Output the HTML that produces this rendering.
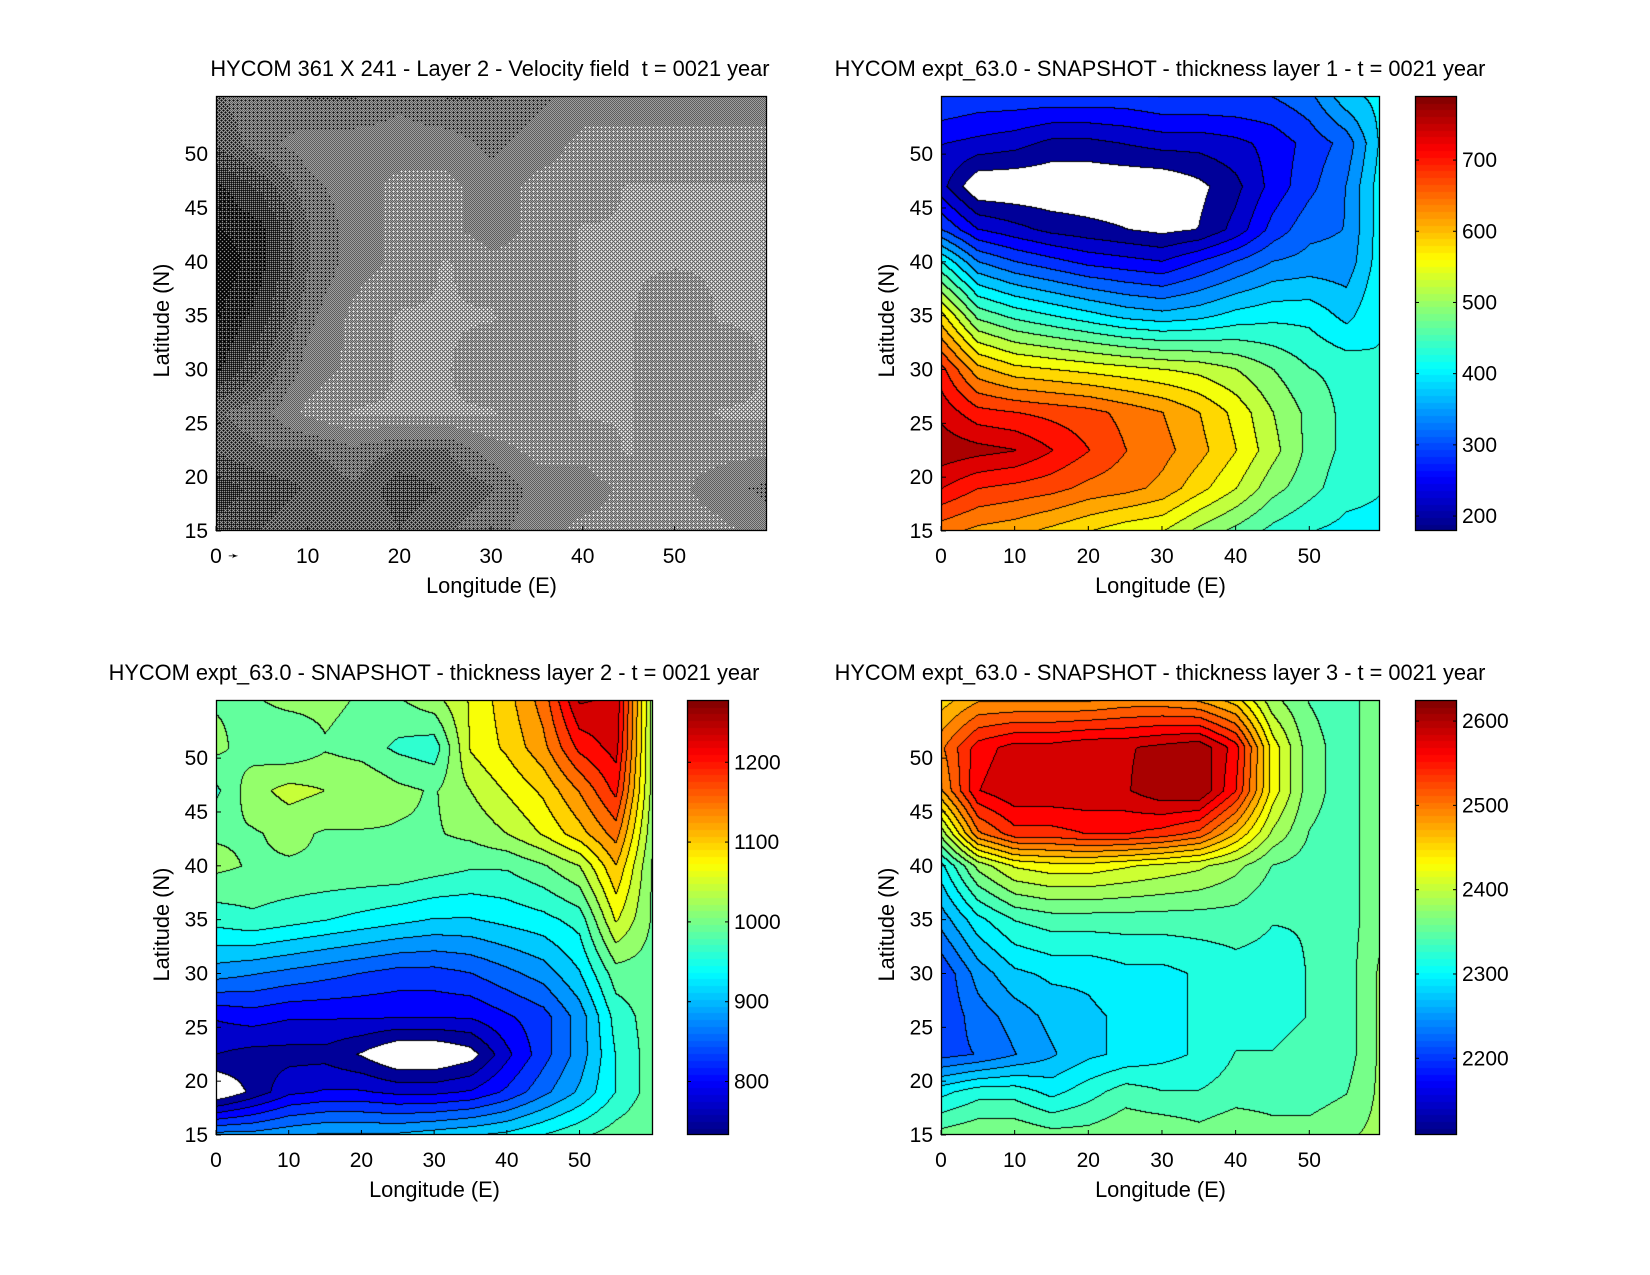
<!DOCTYPE html>
<html><head><meta charset="utf-8">
<style>
html,body{margin:0;padding:0;background:#fff;}
#fig{position:relative;width:1650px;height:1275px;overflow:hidden;background:#fff;font-family:"Liberation Sans",sans-serif;}
canvas{position:absolute;}
svg{position:absolute;left:0;top:0;}
svg text{font-family:"Liberation Sans",sans-serif;font-size:21px;fill:#000;white-space:pre;}
svg text.big{font-size:21.8px;}
</style></head>
<body>
<div id="fig">
<canvas id="c0"></canvas>
<canvas id="c1"></canvas>
<canvas id="c2"></canvas>
<canvas id="c3"></canvas>
<canvas id="cb1"></canvas>
<canvas id="cb2"></canvas>
<canvas id="cb3"></canvas>
<svg id="ov" width="1650" height="1275" xml:space="preserve"></svg>
</div>
<script>
const lats = [55.4,51,47,43,40,35,30,26,22.5,19,15];
const lons = [0,5,10,15,20,25,30,35,40,45,50,55,60];
const speedGrid = [
[.6,.55,.6,.6,.55,.6,.6,.55,.5,.5,.5,.5,.5],
[.65,.55,.5,.5,.5,.5,.55,.5,.45,.45,.45,.45,.45],
[.8,.7,.55,.5,.45,.45,.5,.45,.45,.4,.4,.4,.4],
[.85,.8,.6,.5,.45,.45,.5,.45,.4,.4,.4,.4,.4],
[.9,.8,.6,.5,.45,.4,.45,.45,.4,.4,.4,.4,.4],
[.85,.75,.55,.45,.4,.4,.4,.45,.4,.4,.45,.4,.4],
[.8,.65,.5,.45,.4,.4,.45,.45,.4,.4,.45,.45,.4],
[.6,.55,.45,.4,.4,.4,.4,.45,.4,.4,.45,.4,.4],
[.65,.6,.6,.55,.6,.6,.5,.45,.45,.4,.45,.45,.45],
[.75,.7,.65,.6,.7,.65,.6,.5,.5,.45,.45,.5,.55],
[.7,.65,.6,.6,.65,.6,.55,.5,.45,.45,.45,.45,.5]];
const layer1 = [
[300,290,290,290,290,290,300,300,300,300,320,380,400],
[240,230,220,200,200,210,220,220,230,250,280,310,400],
[220,150,150,150,150,150,150,170,200,250,290,330,410],
[300,240,220,200,190,180,170,180,220,280,320,330,410],
[420,330,300,280,260,250,240,270,300,330,340,340,410],
[580,470,440,420,400,380,370,380,400,410,410,380,420],
[700,610,580,570,560,550,540,530,510,480,450,440,420],
[740,700,690,680,670,650,630,600,560,510,470,440,420],
[770,760,750,720,690,660,640,610,570,520,470,440,420],
[720,690,680,670,650,640,620,580,540,490,460,430,420],
[640,620,610,590,570,550,540,500,470,440,420,410,410]];
const layer2 = [
[1000,1000,1010,1010,1000,1000,1020,1060,1100,1150,1250,1240,1020],
[1010,990,980,1000,990,970,960,1060,1090,1130,1200,1230,1020],
[970,1020,1040,1030,1030,1010,1000,1030,1060,1090,1140,1200,1020],
[1000,1000,1010,1000,1000,1000,1000,1010,1030,1060,1100,1150,1010],
[1010,1000,1000,1000,1000,1000,990,980,980,1000,1030,1110,1000],
[960,970,960,950,940,930,920,920,930,940,960,1060,1000],
[880,870,860,850,840,830,830,840,860,880,920,990,990],
[790,800,790,790,790,790,790,790,810,830,880,960,990],
[760,750,750,750,730,700,700,720,780,830,880,950,990],
[700,740,780,790,790,780,780,790,820,860,900,950,990],
[880,880,890,900,900,900,910,920,930,950,970,990,1000]];
const layer3 = [
[2450,2480,2480,2480,2480,2490,2490,2480,2450,2380,2350,2340,2370],
[2500,2560,2580,2580,2590,2590,2600,2610,2560,2430,2360,2340,2370],
[2480,2570,2590,2590,2590,2590,2610,2615,2550,2430,2360,2340,2370],
[2380,2500,2540,2540,2550,2550,2540,2520,2460,2390,2350,2340,2370],
[2300,2380,2420,2430,2430,2420,2410,2400,2380,2350,2340,2340,2370],
[2250,2300,2330,2340,2340,2340,2340,2340,2340,2330,2330,2340,2370],
[2200,2250,2280,2290,2290,2300,2300,2310,2320,2320,2330,2340,2380],
[2200,2230,2250,2270,2280,2290,2300,2310,2320,2320,2330,2340,2380],
[2210,2220,2240,2260,2280,2290,2300,2310,2330,2330,2340,2340,2380],
[2300,2320,2320,2300,2320,2340,2330,2330,2340,2340,2340,2350,2380],
[2360,2370,2370,2360,2360,2370,2370,2360,2370,2360,2360,2370,2380]];
const xTicks = [0,10,20,30,40,50];
const yTicks = [15,20,25,30,35,40,45,50];
const cbTicks1 = [200,300,400,500,600,700];
const cbTicks2 = [800,900,1000,1100,1200];
const cbTicks3 = [2200,2300,2400,2500,2600];
const titles = ["HYCOM 361 X 241 - Layer 2 - Velocity field  t = 0021 year",
"HYCOM expt_63.0 - SNAPSHOT - thickness layer 1 - t = 0021 year",
"HYCOM expt_63.0 - SNAPSHOT - thickness layer 2 - t = 0021 year",
"HYCOM expt_63.0 - SNAPSHOT - thickness layer 3 - t = 0021 year"];

const panels = [
 {id:'c0',L:216,R:767,T:96,B:531,x1:60.1,tc:490},
 {id:'c1',L:941,R:1380,T:96,B:531,x1:59.6,tc:1160,grid:layer1,vmin:179,vmax:790,step:30,cb:'cb1',cbt:cbTicks1,cbL:1415,cbR:1457},
 {id:'c2',L:216,R:653,T:700,B:1135,x1:60.1,tc:434,grid:layer2,vmin:733,vmax:1278,step:27,cb:'cb2',cbt:cbTicks2,cbL:687,cbR:729},
 {id:'c3',L:941,R:1380,T:700,B:1135,x1:59.6,tc:1160,grid:layer3,vmin:2109,vmax:2625,step:22,cb:'cb3',cbt:cbTicks3,cbL:1415,cbR:1457}];

function jet(t){t=Math.max(0,Math.min(1,t));
 const f=(x)=>Math.max(0,Math.min(1,x));
 return [f(1.5-Math.abs(4*t-3)),f(1.5-Math.abs(4*t-2)),f(1.5-Math.abs(4*t-1))].map(v=>Math.round(v*255));}
function interp(grid,lat,lon){
 let j=Math.min(lons.length-2,Math.max(0,Math.floor(lon/5)));
 let fx=(lon-lons[j])/5; fx=Math.max(0,Math.min(1,fx));
 let i=0; while(i<lats.length-2 && lat<lats[i+1]) i++;
 let fy=(lats[i]-lat)/(lats[i]-lats[i+1]); fy=Math.max(0,Math.min(1,fy));
 const a=grid[i][j],b=grid[i][j+1],c=grid[i+1][j],d=grid[i+1][j+1];
 return (a*(1-fx)+b*fx)*(1-fy)+(c*(1-fx)+d*fx)*fy;}
const Y1=55.4,Y0=15;
panels.forEach((p,k)=>{
 const cv=document.getElementById(p.id); const w=p.R-p.L,h=p.B-p.T;
 cv.width=w;cv.height=h;cv.style.left=p.L+'px';cv.style.top=p.T+'px';
 const ctx=cv.getContext('2d');const img=ctx.createImageData(w,h);
 if(k===0){
  const bay=[[0,8,2,10],[12,4,14,6],[3,11,1,9],[15,7,13,5]];
  for(let y=0;y<h;y++)for(let x=0;x<w;x++){
   const lon=x/w*p.x1,lat=Y1-y/h*(Y1-Y0);
   const s=interp(speedGrid,lat,lon);
   const blk=(bay[y%4][x%4]+0.5)/16<s;
   const o=(y*w+x)*4;const v=blk?0:255;
   img.data[o]=img.data[o+1]=img.data[o+2]=v;img.data[o+3]=255;}
  ctx.putImageData(img,0,0);return;}
 const lev=new Int16Array(w*h);
 for(let y=0;y<h;y++)for(let x=0;x<w;x++){
  const lon=x/w*p.x1,lat=Y1-y/h*(Y1-Y0);
  const v=interp(p.grid,lat,lon);
  lev[y*w+x]=v<p.vmin?-1:Math.floor((v-p.vmin)/p.step);}
 for(let y=0;y<h;y++)for(let x=0;x<w;x++){
  const i=y*w+x,o=i*4,l=lev[i];let c;
  if(l<0)c=[255,255,255];else c=jet(((l+0.5)*p.step)/(p.vmax-p.vmin));
  const edge=(x<w-1&&lev[i+1]!==l)||(y<h-1&&lev[i+w]!==l);
  if(edge)c=[0,0,0];
  img.data[o]=c[0];img.data[o+1]=c[1];img.data[o+2]=c[2];img.data[o+3]=255;}
 ctx.putImageData(img,0,0);
 const cb=document.getElementById(p.cb);const cw=p.cbR-p.cbL;
 cb.width=cw;cb.height=h;cb.style.left=p.cbL+'px';cb.style.top=p.T+'px';
 const cc=cb.getContext('2d');
 for(let n=0;n<64;n++){const c=jet((n+0.5)/64);cc.fillStyle=`rgb(${c[0]},${c[1]},${c[2]})`;
  const y0=h-(n+1)*h/64;cc.fillRect(0,Math.floor(y0),cw,Math.ceil(h/64)+1);}
});

const ov=document.getElementById('ov');const NS='http://www.w3.org/2000/svg';
function mk(tag,attrs,txt){const e=document.createElementNS(NS,tag);for(const a in attrs)e.setAttribute(a,attrs[a]);if(txt!==undefined)e.textContent=txt;ov.appendChild(e);return e;}
panels.forEach((p,k)=>{
 const sx=v=>p.L+v/p.x1*(p.R-p.L), sy=v=>p.B-(v-Y0)/(Y1-Y0)*(p.B-p.T);
 let e=mk('rect',{x:p.L+0.5,y:p.T+0.5,width:p.R-p.L-1,height:p.B-p.T-1,fill:'none',stroke:'#000','stroke-width':1.3});
 
 xTicks.forEach(t=>{const x=sx(t);
  e=mk('line',{x1:x,x2:x,y1:p.B,y2:p.B-5,stroke:'#000'});
  e=mk('text',{x:x,y:p.B+32,'text-anchor':'middle'},t);});
 yTicks.forEach(t=>{const y=sy(t);
  e=mk('line',{x1:p.L,x2:p.L+5,y1:y,y2:y,stroke:'#000'});
  e=mk('text',{x:p.L-8,y:y+7,'text-anchor':'end'},t);});
 e=mk('text',{x:(p.L+p.R)/2,y:p.B+62,'text-anchor':'middle','class':'big'},'Longitude (E)');
 const cy=(p.T+p.B)/2;
 e=mk('text',{x:p.L-54,y:cy,'text-anchor':'middle','class':'big',transform:`rotate(-90 ${p.L-47} ${cy})`},'Latitude (N)');
 e=mk('text',{x:p.tc,y:p.T-20,'text-anchor':'middle','class':'big'},titles[k]);
 if(p.grid){
  e=mk('rect',{x:p.cbL+0.5,y:p.T+0.5,width:p.cbR-p.cbL-1,height:p.B-p.T-1,fill:'none',stroke:'#000','stroke-width':1.3});
  
  p.cbt.forEach(t=>{const y=p.B-(t-p.vmin)/(p.vmax-p.vmin)*(p.B-p.T);
   e=mk('line',{x1:p.cbL,x2:p.cbL+4,y1:y,y2:y,stroke:'#000'});
   e=mk('line',{x1:p.cbR-4,x2:p.cbR,y1:y,y2:y,stroke:'#000'});
   e=mk('text',{x:p.cbR+5,y:y+7},t);});
 }
});
let ar=mk('text',{x:228,y:560,style:'font-size:13px'},'➛');


</script>
</body></html>
